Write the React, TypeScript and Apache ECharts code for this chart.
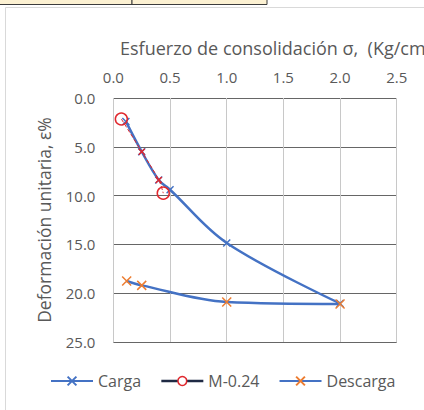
import React, { useEffect, useRef } from "react";
import * as echarts from "echarts";

const xTicks = [0, 0.5, 1.0, 1.5, 2.0, 2.5];
const yTicks = [0, 5, 10, 15, 20, 25];

const cargaX = [0.11, 0.25, 0.4, 0.5, 1.0, 2.0];
const cargaY = [2.4, 5.5, 8.4, 9.4, 14.85, 21.05];

const mX = [0.07, 0.25, 0.4, 0.44];
const mY = [2.15, 5.5, 8.4, 9.75];

const descX = [2.0, 1.0, 0.25, 0.117];
const descY = [21.1, 20.9, 19.2, 18.75];

const xName = "Esfuerzo de consolidación σ,  (Kg/cm²)";
const yName = "Deformación unitaria, ε%";

const FONT = "Open Sans";
const TXT = "#595959";
const BLUE = "#4472C4";
const RED = "#E0282E";
const ORANGE = "#ED7D31";
const XPATH = "path://M0,0L10,10M10,0L0,10";

export default function App() {
  const ref = useRef<HTMLDivElement>(null);
  useEffect(() => {
    if (!ref.current) return;
    const chart = echarts.init(ref.current, null, { renderer: "svg" });
    const pairs = (xs: number[], ys: number[]) => xs.map((x, i) => [x, ys[i]]);
    const mData = pairs(mX, mY).map((p, i) =>
      i === 0 || i === mX.length - 1
        ? { value: p }
        : { value: p, symbol: XPATH, symbolSize: 6, itemStyle: { color: "transparent", borderColor: RED, borderWidth: 1.5 } }
    );
    chart.setOption({
      animation: false,
      backgroundColor: "#ffffff",
      textStyle: { fontFamily: FONT },
      grid: { left: 113.4, right: 27.3, top: 98, bottom: 68 },
      graphic: [
        { type: "rect", z: -10, shape: { x: 5.5, y: 7.5, width: 600, height: 600 }, style: { fill: "#ffffff", stroke: "#d9d9d9", lineWidth: 1 } },
        { type: "rect", z: 10, shape: { x: -1, y: -1, width: 133, height: 5.5 }, style: { fill: "#fcf1d2", stroke: "#3c3c3c", lineWidth: 1 } },
        { type: "rect", z: 10, shape: { x: 132, y: -1, width: 135, height: 5.5 }, style: { fill: "#fcf1d2", stroke: "#3c3c3c", lineWidth: 1 } },
        { type: "text", z: 10, left: 120, top: 39, style: { text: xName, fontFamily: FONT, fontSize: 18, fill: TXT } },
      ],
      legend: {
        left: 50,
        top: 373,
        padding: 0,
        itemWidth: 42,
        itemHeight: 11,
        itemGap: 19,
        textStyle: { fontFamily: FONT, fontSize: 16, color: TXT },
        data: [
          { name: "Carga" },
          { name: "M-0.24", lineStyle: { color: "#1f2a44", type: "solid", width: 2.5 }, itemStyle: { color: "#ffffff", borderColor: RED, borderWidth: 1.5 } },
          { name: "Descarga" },
        ],
      },
      xAxis: {
        type: "value",
        position: "top",
        min: 0,
        max: 2.5,
        interval: 0.5,
        axisLine: { show: false },
        axisTick: { show: false },
        axisLabel: { color: TXT, fontSize: 15, fontFamily: FONT, margin: 14, formatter: (v: number) => v.toFixed(1) },
        splitLine: { show: true, lineStyle: { color: "#c8c8c8", width: 1 } },
      },
      yAxis: {
        type: "value",
        inverse: true,
        min: 0,
        max: 25,
        interval: 5,
        name: yName,
        nameLocation: "middle",
        nameGap: 60,
        nameTextStyle: { color: TXT, fontSize: 17.5, fontFamily: FONT },
        axisLine: { show: false },
        axisTick: { show: false },
        axisLabel: { color: TXT, fontSize: 15, fontFamily: FONT, margin: 18, formatter: (v: number) => v.toFixed(1) },
        splitLine: { show: true, lineStyle: { color: "#666666", width: 1 } },
      },
      series: [
        {
          name: "Carga",
          type: "line",
          smooth: 0.35,
          z: 3,
          data: pairs(cargaX, cargaY),
          symbol: XPATH,
          symbolSize: 7,
          lineStyle: { color: BLUE, width: 2.5 },
          itemStyle: { color: "transparent", borderColor: BLUE, borderWidth: 1.5 },
        },
        {
          name: "M-0.24",
          type: "line",
          smooth: 0.35,
          z: 4,
          data: mData,
          symbol: "circle",
          symbolSize: 12,
          lineStyle: { color: RED, width: 1, type: "dashed" },
          itemStyle: { color: "transparent", borderColor: RED, borderWidth: 1.5 },
        },
        {
          name: "Descarga",
          type: "line",
          smooth: 0.35,
          z: 3,
          data: pairs(descX, descY),
          symbol: XPATH,
          symbolSize: 9,
          lineStyle: { color: BLUE, width: 2.5 },
          itemStyle: { color: "transparent", borderColor: ORANGE, borderWidth: 1.5 },
        },
      ],
    });
    return () => chart.dispose();
  }, []);
  return <div ref={ref} style={{ position: "fixed", left: 0, top: 0, width: 424, height: 410 }} />;
}
